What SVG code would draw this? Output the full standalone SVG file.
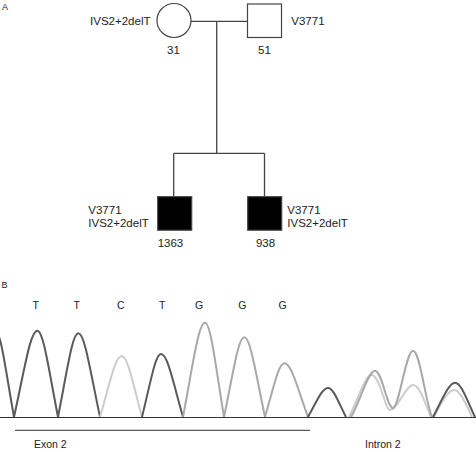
<svg xmlns="http://www.w3.org/2000/svg" width="476" height="452" viewBox="0 0 476 452">
<style>
text{font-family:"Liberation Sans",Arial,sans-serif;fill:#222}
.lbl{font-size:11.5px}
.base{font-size:10.5px}
.sym{fill:#fff;stroke:#444;stroke-width:1.2}
.aff{fill:#000;stroke:#444;stroke-width:1.2}
.con{fill:none;stroke:#444;stroke-width:1.3}
.tr{fill:none;stroke-width:2;stroke-linejoin:round}
.dk{stroke:#5a5a5a}
.md{stroke:#a8a8a8}
.lt{stroke:#cdcdcd}
</style>
<rect width="476" height="452" fill="#fff"/>
<text x="2" y="10" font-size="9">A</text>
<g id="connectors">
<path class="con" d="M191,21.3H247.5 M216.7,21.3V153.3 M173.7,153.3H264.5 M173.7,153.3V196.7 M264.5,153.3V196.7"/>
</g>
<g id="mother">
<circle class="sym" cx="174" cy="20.5" r="17"/>
<text class="lbl" x="150.5" y="25.3" text-anchor="end">IVS2+2delT</text>
<text class="lbl" x="173.5" y="54" text-anchor="middle">31</text>
</g>
<g id="father">
<rect class="sym" x="247.5" y="4" width="34" height="33.5"/>
<text class="lbl" x="291.3" y="25.3">V3771</text>
<text class="lbl" x="264.5" y="54" text-anchor="middle">51</text>
</g>
<g id="son1363">
<rect class="aff" x="157.7" y="196.7" width="34" height="33.5"/>
<text class="lbl" x="88.3" y="214">V3771</text>
<text class="lbl" x="88.3" y="226.7">IVS2+2delT</text>
<text class="lbl" x="157.7" y="247.3">1363</text>
</g>
<g id="son938">
<rect class="aff" x="247.7" y="196.7" width="34" height="33.5"/>
<text class="lbl" x="287.3" y="214">V3771</text>
<text class="lbl" x="287.3" y="226.7">IVS2+2delT</text>
<text class="lbl" x="265.5" y="247.3" text-anchor="middle">938</text>
</g>
<text x="1.5" y="288.3" font-size="9">B</text>
<g id="bases" class="base" text-anchor="middle">
<text x="35.7" y="309.3">T</text>
<text x="76.7" y="309.3">T</text>
<text x="120.7" y="309.3">C</text>
<text x="162.3" y="309.3">T</text>
<text x="199" y="309.3">G</text>
<text x="242.3" y="309.3">G</text>
<text x="282.7" y="309.3">G</text>
</g>
<g id="trace">
<path class="tr dk" d="M-26,417 C-16.5,369.2 -11.3,330 -5,330 C0.7,330 5.4,369.2 14,417"/>
<path class="tr dk" d="M14,417 C24.5,369.5 30.3,330.7 37.3,330.7 C43.5,330.7 48.7,369.5 58,417"/>
<path class="tr dk" d="M58,417 C67.1,371 72.2,333.3 78.3,333.3 C84.8,333.3 90.2,371 100,417"/>
<path class="tr lt" d="M100,417 C109.8,383.4 115.2,356 121.7,356 C127.8,356 132.9,383.4 142,417"/>
<path class="tr dk" d="M142,417 C150.6,382.3 155.3,354 161,354 C167.6,354 173.1,382.3 183,417"/>
<path class="tr md" d="M183,417 C192.9,365.1 198.4,322.7 205,322.7 C210.7,322.7 215.5,365.1 224,417"/>
<path class="tr md" d="M224,417 C233.1,373.2 238.2,337.3 244.3,337.3 C250.5,337.3 255.7,373.2 265,417"/>
<path class="tr md" d="M265,417 C273.7,387.5 278.5,363.3 284.3,363.3 C291.4,363.3 297.3,387.5 308,417"/>
<path class="tr dk" d="M308,417 C317,401 322,388 328,388 C333.4,388 337.9,401 346,417"/>
<path class="tr lt" d="M349,417 C357,402 365,375 371.5,375 C380,375 385,410 390,410 C397,410 406,385 413,385 C420,385 425,404 431,417"/>
<path class="tr md" d="M351,417 C360,402 368,370.7 375,370.7 C382,370.7 387,408 393,408 C399,408 406,350.7 413,350.7 C420,350.7 425,400 432,417"/>
<path class="tr lt" d="M434,417 C442,402 448,390 454,390 C460,390 466,404 472,417"/>
<path class="tr dk" d="M433,417 C442,400 449,382.7 455,382.7 C461,382.7 467,400 475,417"/>
</g>
<line x1="0" y1="417.5" x2="476" y2="417.5" stroke="#333" stroke-width="1.2"/>
<line x1="15" y1="430.3" x2="310" y2="430.3" stroke="#333" stroke-width="1"/>
<text class="base" x="34" y="448.3">Exon 2</text>
<text class="base" x="365" y="448.3">Intron 2</text>
</svg>
